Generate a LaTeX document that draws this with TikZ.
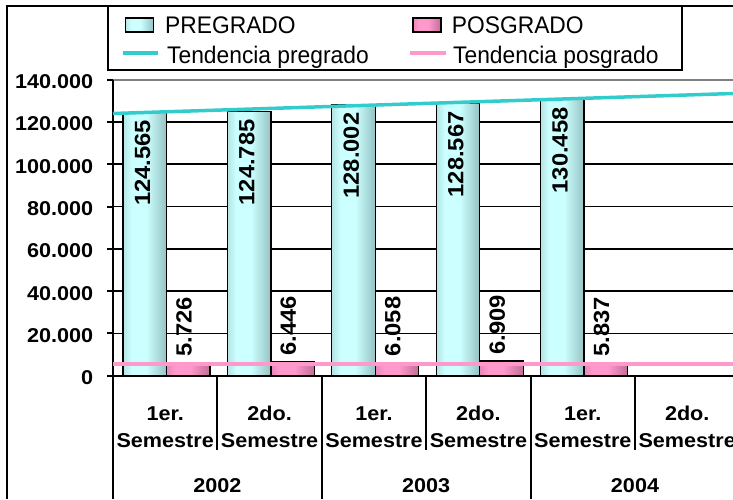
\documentclass[tikz,border=0pt]{standalone}
\usepackage{fontspec}
\setmainfont{Liberation Sans}
\newfontfamily\chartfont[FakeStretch=1.08]{Liberation Sans}
\newfontfamily\legendfont[FakeStretch=0.95]{Liberation Sans}
\definecolor{preLight}{HTML}{CCFFFF}
\definecolor{preMid}{HTML}{94BABA}
\definecolor{preDark}{HTML}{5A8080}
\definecolor{posLight}{HTML}{FF99CC}
\definecolor{posMid}{HTML}{C4709A}
\definecolor{posDark}{HTML}{7E3E5E}
\definecolor{trendPre}{HTML}{33CCCC}
\definecolor{trendPos}{HTML}{FF99CC}
\definecolor{plotGray}{HTML}{808080}
\pgfdeclarehorizontalshading{preshade}{100bp}{color(0bp)=(preDark); color(10bp)=(preMid); color(35bp)=(preLight); color(52bp)=(preLight); color(100bp)=(preDark)}
\pgfdeclarehorizontalshading{posshade}{100bp}{color(0bp)=(posDark); color(10bp)=(posMid); color(35bp)=(posLight); color(52bp)=(posLight); color(100bp)=(posDark)}
\begin{document}
\begin{tikzpicture}[x=1pt, y=-1pt,
    prebar/.style={shade, shading=preshade, draw=black, line width=1.3pt},
    posbar/.style={shade, shading=posshade, draw=black, line width=1.3pt},
    gridline/.style={black, line width=1.5pt},
    axisline/.style={black, line width=2pt},
    trendpre/.style={trendPre, line width=3.5pt},
    trendpos/.style={trendPos, line width=3.5pt},
    ylabel/.style={anchor=base east, inner sep=0pt, font=\chartfont\bfseries\fontsize{20}{24}\selectfont},
    catlabel/.style={anchor=base, inner sep=0pt, font=\chartfont\bfseries\fontsize{20}{24}\selectfont},
    vallabel/.style={rotate=90, inner sep=0pt, font=\chartfont\bfseries\fontsize{22}{26}\selectfont},
    legtext/.style={anchor=base west, inner sep=0pt, font=\legendfont\fontsize{24}{28}\selectfont},
    swatch/.style={minimum width=28pt, minimum height=14pt, inner sep=0pt}]
    \clip (0,0) rectangle (733,499);

    % frame and legend
    \draw[axisline] (6.7,499) -- (6.7,6) -- (733,6);
    \draw[axisline] (108.3,6) rectangle (681.7,70);
    \node[swatch, prebar] (spre) at (139.2,25) {};
    \node[legtext] (lpre) at (165,33.3) {PREGRADO};
    \node[swatch, posbar] (spos) at (427,25) {};
    \node[legtext] (lpos) at (451.7,33.3) {POSGRADO};
    \coordinate (ltp0) at (123,53);
    \coordinate (ltp1) at (158,53);
    \coordinate (lts0) at (410,53);
    \coordinate (lts1) at (446,53);
    \draw[trendpre] (ltp0) -- (ltp1);
    \draw[trendpos] (lts0) -- (lts1);
    \node[legtext] (ltpre) at (167,63.3) {Tendencia pregrado};
    \node[legtext] (ltpos) at (453,63.3) {Tendencia posgrado};

    % grid, axis and ticks
    \draw[plotGray, line width=2pt] (113,79.6) -- (733,79.6);
    \foreach \k in {1,...,6}
        \draw[gridline] (113,{375.7-42.3*\k}) -- (733,{375.7-42.3*\k});
    \foreach \t [count=\k from 0] in {0,20.000,40.000,60.000,80.000,100.000,120.000,140.000} {
        \draw[axisline] (107,{375.7-42.3*\k}) -- (113,{375.7-42.3*\k});
        \node[ylabel] (y\k) at (93.3,{375.7-42.3*\k+9}) {\t};
    }
    \draw[axisline] (113,375.7) -- (733,375.7);
    \draw[axisline] (113,79.6) -- (113,499);
    \foreach \x in {321.8,530.6}
        \draw[axisline] (\x,375.7) -- (\x,499);
    \foreach \x in {217.4,426.2,635}
        \draw[axisline] (\x,375.7) -- (\x,450);

    % bars
    \path[prebar] (123,375.7) rectangle (166.5,112.3); % 124.565
    \path[posbar] (166.5,375.7) rectangle (210,363.6); % 5.726
    \path[prebar] (227.4,375.7) rectangle (270.9,111.8); % 124.785
    \path[posbar] (270.9,375.7) rectangle (314.4,362.1); % 6.446
    \path[prebar] (331.8,375.7) rectangle (375.3,105); % 128.002
    \path[posbar] (375.3,375.7) rectangle (418.8,362.9); % 6.058
    \path[prebar] (436.2,375.7) rectangle (479.7,103.8); % 128.567
    \path[posbar] (479.7,375.7) rectangle (523.2,361.1); % 6.909
    \path[prebar] (540.6,375.7) rectangle (584.1,99.8); % 130.458
    \path[posbar] (584.1,375.7) rectangle (627.6,363.4); % 5.837

    % trend lines
    \coordinate (tp0) at (113,113.5);
    \coordinate (tp1) at (733,93.5);
    \coordinate (ts0) at (113,364);
    \coordinate (ts1) at (733,364);
    \draw[trendpre] (tp0) -- (tp1);
    \draw[trendpos] (ts0) -- (ts1);

    % value labels
    \node[vallabel, anchor=east] (v1) at (142.5,119.8) {124.565};
    \node[vallabel, anchor=west] (w1) at (184,357) {5.726};
    \node[vallabel, anchor=east] (v2) at (246.9,119.3) {124.785};
    \node[vallabel, anchor=west] (w2) at (288.4,355.5) {6.446};
    \node[vallabel, anchor=east] (v3) at (351.3,112.5) {128.002};
    \node[vallabel, anchor=west] (w3) at (392.8,356.3) {6.058};
    \node[vallabel, anchor=east] (v4) at (455.7,111.3) {128.567};
    \node[vallabel, anchor=west] (w4) at (497.2,354.5) {6.909};
    \node[vallabel, anchor=east] (v5) at (560.1,107.3) {130.458};
    \node[vallabel, anchor=west] (w5) at (601.6,356.8) {5.837};

    % categories
    \node[catlabel] (c1a) at (165.2,420) {1er.};
    \node[catlabel] (c1b) at (165.2,447) {Semestre};
    \node[catlabel] (c2a) at (269.6,420) {2do.};
    \node[catlabel] (c2b) at (269.6,447) {Semestre};
    \node[catlabel] (c3a) at (374,420) {1er.};
    \node[catlabel] (c3b) at (374,447) {Semestre};
    \node[catlabel] (c4a) at (478.4,420) {2do.};
    \node[catlabel] (c4b) at (478.4,447) {Semestre};
    \node[catlabel] (c5a) at (582.8,420) {1er.};
    \node[catlabel] (c5b) at (582.8,447) {Semestre};
    \node[catlabel] (c6a) at (687.2,420) {2do.};
    \node[catlabel] (c6b) at (687.2,447) {Semestre};
    \node[catlabel] (yr1) at (217.4,492) {2002};
    \node[catlabel] (yr2) at (426.2,492) {2003};
    \node[catlabel] (yr3) at (635,492) {2004};
\end{tikzpicture}
\end{document}
